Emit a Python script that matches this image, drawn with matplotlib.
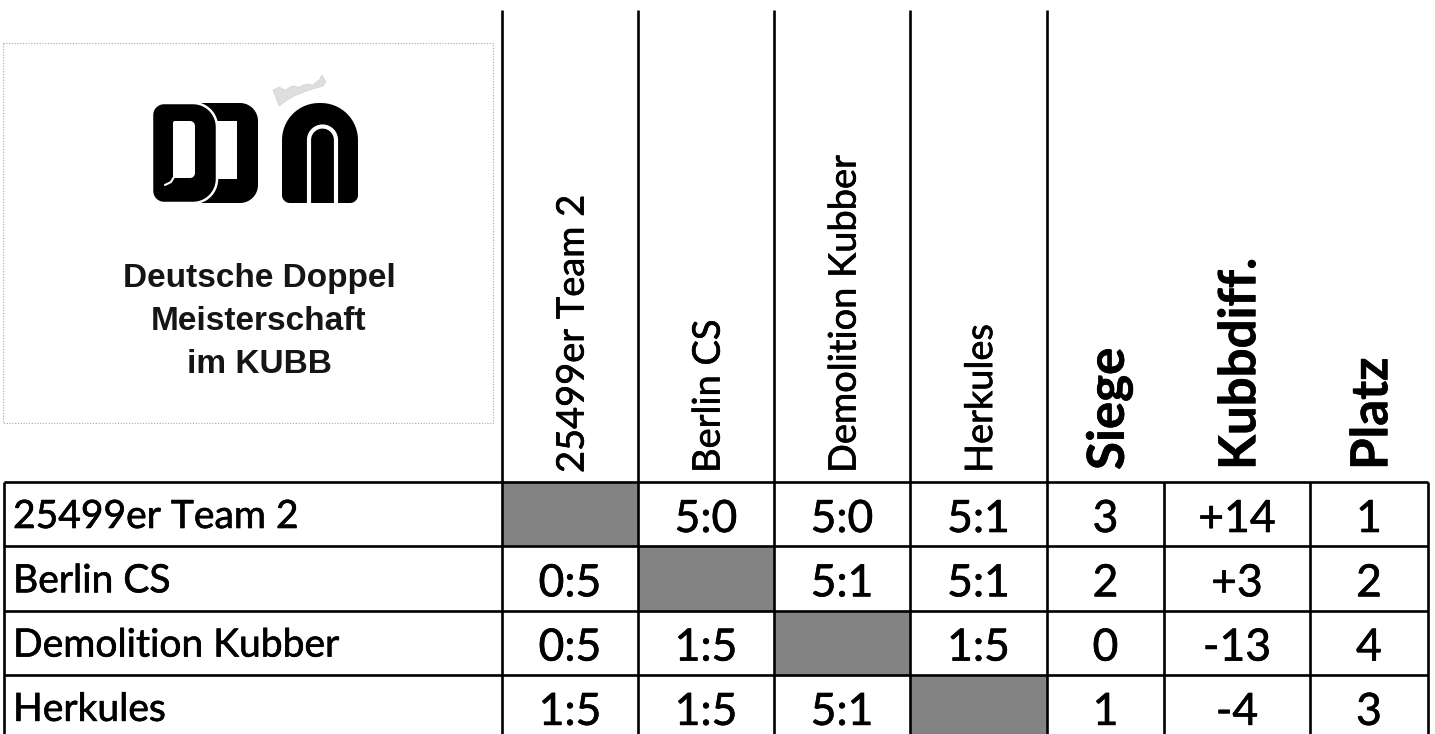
import numpy as np
import matplotlib
matplotlib.use("Agg")
import matplotlib.pyplot as plt
import matplotlib.patheffects as pe
from matplotlib.patches import Polygon, Rectangle

# ---------------- data ----------------
teams = ["25499er Team 2", "Berlin CS", "Demolition Kubber", "Herkules"]
scores = [
    [None, "5:0", "5:0", "5:1"],
    ["0:5", None, "5:1", "5:1"],
    ["0:5", "1:5", None, "1:5"],
    ["1:5", "1:5", "5:1", None],
]
siege = [3, 2, 0, 1]
kubbdiff = [14, 3, -13, -4]
platz = [1, 2, 4, 3]
stat_headers = ["Siege", "Kubbdiff.", "Platz"]
logo_lines = ["Deutsche Doppel", "Meisterschaft", "im KUBB"]

# ---------------- layout (pixel space) ----------------
W, H = 1435, 734
name_left = 4
col_edges = [502, 638, 774, 910, 1047, 1164, 1310, 1428]
header_top = 10
header_bottom = 482
row_h = 64.3
n_rows = len(teams)
line_kw = dict(color="black", lw=1.9, solid_capstyle="butt", zorder=5)
gray = "#838383"
FONT = "Lato"
PX = 72 / 100.0  # points per pixel at dpi 100
ink = [pe.withStroke(linewidth=0.45, foreground="black")]
ink_b = [pe.withStroke(linewidth=0.4, foreground="black")]

fig = plt.figure(figsize=(W / 100, H / 100), dpi=100)
ax = fig.add_axes([0, 0, 1, 1])
ax.set_xlim(0, W)
ax.set_ylim(H, 0)
ax.axis("off")

row_tops = [header_bottom + i * row_h for i in range(n_rows + 1)]
table_bottom = row_tops[-1]

# grey diagonal cells
for i in range(n_rows):
    x0, x1 = col_edges[i], col_edges[i + 1]
    ax.add_patch(Rectangle((x0, row_tops[i]), x1 - x0, row_h,
                           facecolor=gray, edgecolor="none", zorder=1))

# horizontal lines
for y in row_tops:
    ax.plot([name_left, col_edges[-1]], [y, y], **line_kw)
# vertical lines
ax.plot([name_left, name_left], [header_bottom, table_bottom + 5], **line_kw)
for x in col_edges[:5]:
    ax.plot([x, x], [header_top, table_bottom + 5], **line_kw)
for x in col_edges[5:]:
    ax.plot([x, x], [header_bottom, table_bottom + 5], **line_kw)

# fonts sizes (pixel em -> points)
fs_data = 44.5 * PX
fs_name = 39 * PX
fs_head = 38 * PX
fs_bold = 51 * PX
cap = 0.7165

# row texts
for i, team in enumerate(teams):
    top = row_tops[i]
    ax.text(13, top + 46, team, fontsize=fs_name, family=FONT,
            ha="left", va="baseline", zorder=6, path_effects=ink)
    for j in range(n_rows):
        s = scores[i][j]
        if s is None:
            continue
        cx = (col_edges[j] + col_edges[j + 1]) / 2
        ax.text(cx, top + 50, s, fontsize=fs_data, family=FONT,
                ha="center", va="baseline", zorder=6, path_effects=ink)
    stats = [str(siege[i]), f"{kubbdiff[i]:+d}", str(platz[i])]
    for k, s in enumerate(stats):
        cx = (col_edges[4 + k] + col_edges[5 + k]) / 2
        ax.text(cx, top + 50, s, fontsize=fs_data, family=FONT,
                ha="center", va="baseline", zorder=6, path_effects=ink)

# rotated team headers
for j, team in enumerate(teams):
    cx = (col_edges[j] + col_edges[j + 1]) / 2
    ax.text(cx + 0.5 * cap * 38, 473, team, fontsize=fs_head, family=FONT,
            rotation=90, rotation_mode="anchor", ha="left", va="baseline",
            zorder=6, path_effects=ink)
# rotated bold stat headers
for k, hname in enumerate(stat_headers):
    cx = (col_edges[4 + k] + col_edges[5 + k]) / 2
    ax.text(cx + 0.5 * cap * 51, 470, hname, fontsize=fs_bold, family=FONT,
            fontweight="bold", rotation=90, rotation_mode="anchor",
            ha="left", va="baseline", zorder=6, path_effects=ink_b)

# ---------------- logo box ----------------
ax.add_patch(Rectangle((3, 43), 490, 380, facecolor="none", edgecolor="#a8a8a8",
                       lw=0.8, linestyle=(0, (1, 1.5)), zorder=2))


def rrect(x0, y0, x1, y1, rtl, rtr, rbr, rbl, n=16):
    pts = []
    def arc(cx, cy, r, a0, a1):
        t = np.radians(np.linspace(a0, a1, n))
        return list(zip(cx + r * np.cos(t), cy + r * np.sin(t)))
    pts += arc(x0 + rtl, y0 + rtl, rtl, 180, 270)
    pts += arc(x1 - rtr, y0 + rtr, rtr, 270, 360)
    pts += arc(x1 - rbr, y1 - rbr, rbr, 0, 90)
    pts += arc(x0 + rbl, y1 - rbl, rbl, 90, 180)
    return np.array(pts)

# glyph 2 (reversed D) drawn first
ax.add_patch(Polygon(rrect(196, 103, 258, 203, 4, 18, 18, 4), closed=True,
                     facecolor="black", edgecolor="none", zorder=3))
ax.add_patch(Rectangle((196, 121), 41, 58, facecolor="white", edgecolor="none", zorder=3))
# glyph 1 (D)
ax.add_patch(Polygon(rrect(152, 103, 217, 203, 12, 24, 24, 12), closed=True,
                     facecolor="black", edgecolor="white", lw=1.8, zorder=4))
ax.add_patch(Polygon(rrect(173, 121, 195, 178, 2, 5, 5, 2), closed=True,
                     facecolor="white", edgecolor="none", zorder=4))
ax.plot([174, 171, 165], [177, 182, 185], color="white", lw=1.5, zorder=4,
        solid_capstyle="round")
# glyph 3 (M arch)
ax.add_patch(Polygon(rrect(282, 103, 358, 203, 37, 37, 8, 8), closed=True,
                     facecolor="black", edgecolor="none", zorder=3))
t = np.radians(np.linspace(180, 360, 30))
arc_x = 322.5 + 13.5 * np.cos(t)
arc_y = 140 + 13.5 * np.sin(t)
ax.plot(np.r_[309, arc_x, 336], np.r_[204, arc_y, 204], color="white",
        lw=3.0, zorder=4, solid_capstyle="butt")
# grey crown (stippled ornament)
crown = [(273, 90), (279, 87), (285, 90), (292, 86), (299, 87), (306, 84),
         (313, 85), (319, 80), (322, 75), (326, 82), (323, 86), (313, 89),
         (304, 92), (294, 96), (286, 101), (279, 106), (276, 98)]
ax.add_patch(Polygon(crown, closed=True, facecolor="#dedede", edgecolor="#c4c4c4",
                     lw=0.6, linestyle=(0, (1, 1)), zorder=3))

# logo text
for k, line in enumerate(logo_lines):
    ax.text(259, 287 + k * 43, line, fontsize=24, family="Liberation Sans",
            fontweight="bold", ha="center", va="baseline", color="#151515", zorder=6)

fig.savefig("out.png", dpi=100, facecolor="white")
